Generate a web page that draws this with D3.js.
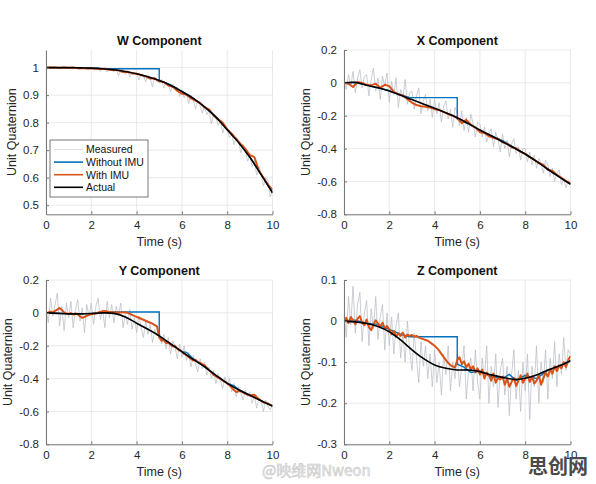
<!DOCTYPE html>
<html>
<head>
<meta charset="utf-8">
<script src="https://cdn.jsdelivr.net/npm/d3@7"></script>
<style>
  body { margin: 0; background: #fff; }
  svg { display: block; font-family: "Liberation Sans", Arial, sans-serif; }
</style>
</head>
<body>
<div id="chart"></div>
<script>
// ---- data (samples evenly spaced over 0..10 s) ----
const wActual = [1.000, 1.000, 1.000, 0.999, 0.998, 0.996, 0.992, 0.986, 0.978, 0.967, 0.953, 0.936, 0.913, 0.888, 0.857, 0.820, 0.774, 0.728, 0.674, 0.611, 0.545];
const wMeasured = [
  1.000, 0.998, 1.001, 0.997, 1.000, 0.999, 0.996, 1.001, 0.998, 1.000,
  0.997, 1.002, 0.995, 0.999, 1.001, 0.994, 1.000, 0.997, 1.002, 0.993,
  0.999, 0.990, 0.997, 1.001, 0.986, 0.995, 0.998, 0.984, 0.996, 0.990,
  0.985, 0.996, 0.970, 0.990, 0.993, 0.975, 0.988, 0.966, 0.984, 0.979,
  0.981, 0.955, 0.975, 0.970, 0.948, 0.972, 0.960, 0.930, 0.964, 0.952,
  0.945, 0.958, 0.925, 0.947, 0.938, 0.912, 0.940, 0.922, 0.930, 0.895,
  0.918, 0.890, 0.905, 0.870, 0.900, 0.884, 0.850, 0.882, 0.862, 0.835,
  0.860, 0.830, 0.845, 0.795, 0.832, 0.822, 0.790, 0.810, 0.762, 0.790,
  0.778, 0.745, 0.760, 0.720, 0.748, 0.735, 0.690, 0.722, 0.700, 0.660,
  0.680, 0.640, 0.662, 0.610, 0.640, 0.615, 0.570, 0.600, 0.590, 0.530,
  0.552];
const wWithImu = [1.000, 1.000, 1.000, 0.999, 1.000, 0.999, 1.000, 0.998, 0.999, 0.997,
  0.998, 0.996, 0.995, 0.996, 0.992, 0.991, 0.990, 0.984, 0.985, 0.979,
  0.978, 0.973, 0.968, 0.960, 0.961, 0.950, 0.948, 0.935, 0.930, 0.915,
  0.905, 0.902, 0.888, 0.880, 0.872, 0.855, 0.848, 0.826, 0.812, 0.800,
  0.776, 0.760, 0.740, 0.722, 0.705, 0.682, 0.675, 0.625, 0.600, 0.575, 0.555];
const wWithoutImu = [[0, 1.000], [1, 1.000], [2, 0.998], [2.5, 0.996], [5, 0.996], [5, 0.953], [5.5, 0.937],
  [6, 0.914], [6.5, 0.889], [7, 0.858], [7.5, 0.822], [8, 0.776], [8.5, 0.731], [9, 0.676], [9.5, 0.612], [10, 0.546]];

const xActual = [0.000, 0.003, -0.015, -0.030, -0.050, -0.075, -0.102, -0.128, -0.155, -0.182, -0.212, -0.248, -0.287, -0.322, -0.358, -0.395, -0.433, -0.478, -0.526, -0.572, -0.617];
const xMeasured = [
  0.02, -0.04, 0.05, -0.02, 0.07, -0.06, 0.03, 0.08, -0.03, 0.04,
  0.05, -0.08, 0.02, 0.09, -0.05, 0.03, -0.10, 0.04, -0.02, 0.06,
  -0.12, 0.01, -0.07, 0.03, -0.15, -0.04, -0.09, 0.02, -0.13, -0.06,
  -0.05, -0.16, -0.08, -0.03, -0.19, -0.11, -0.07, -0.17, -0.10, -0.21,
  -0.10, -0.19, -0.12, -0.24, -0.14, -0.11, -0.22, -0.16, -0.27, -0.15,
  -0.18, -0.26, -0.17, -0.29, -0.21, -0.30, -0.19, -0.25, -0.33, -0.24,
  -0.25, -0.33, -0.27, -0.36, -0.31, -0.28, -0.39, -0.30, -0.35, -0.42,
  -0.31, -0.40, -0.35, -0.45, -0.37, -0.34, -0.43, -0.39, -0.47, -0.40,
  -0.40, -0.48, -0.42, -0.50, -0.44, -0.52, -0.46, -0.49, -0.55, -0.47,
  -0.50, -0.57, -0.52, -0.60, -0.55, -0.53, -0.62, -0.58, -0.64, -0.59,
  -0.61];
const xWithImu = [0.000, -0.005, -0.025, 0.005, 0.000, -0.012, -0.015, -0.005, -0.030, -0.012,
  -0.020, -0.055, -0.070, -0.075, -0.100, -0.120, -0.135, -0.142, -0.145, -0.150,
  -0.160, -0.165, -0.178, -0.190, -0.200, -0.215, -0.245, -0.225, -0.255, -0.272,
  -0.300, -0.305, -0.325, -0.335, -0.340, -0.362, -0.370, -0.392, -0.398, -0.420,
  -0.432, -0.452, -0.468, -0.488, -0.498, -0.530, -0.535, -0.560, -0.578, -0.598, -0.612];
const xWithoutImu = [[0, 0.000], [0.5, 0.002], [1, -0.014], [1.5, -0.030], [2, -0.048], [2.5, -0.072], [2.9, -0.090],
  [5, -0.090], [5, -0.220], [5.5, -0.250], [6, -0.290], [6.5, -0.322], [7, -0.352], [7.5, -0.392],
  [8, -0.433], [8.5, -0.477], [9, -0.524], [9.5, -0.572], [10, -0.617]];

const yActual = [0.000, -0.003, -0.006, -0.006, -0.004, 0.000, -0.003, -0.025, -0.063, -0.100, -0.140, -0.188, -0.236, -0.283, -0.328, -0.380, -0.429, -0.468, -0.502, -0.535, -0.567];
const yMeasured = [
  0.03, -0.06, 0.09, -0.02, 0.05, 0.12, -0.08, 0.04, -0.11, 0.06,
  -0.03, 0.07, -0.09, 0.02, 0.08, -0.05, 0.03, -0.12, 0.05, -0.02,
  0.06, -0.07, 0.04, 0.09, -0.04, 0.02, -0.09, 0.07, -0.03, 0.05,
  -0.06, 0.04, -0.02, 0.06, -0.09, -0.01, -0.07, 0.02, -0.10, -0.03,
  -0.12, -0.02, -0.09, -0.15, -0.05, -0.13, -0.07, -0.18, -0.10, -0.14,
  -0.10, -0.19, -0.13, -0.22, -0.15, -0.25, -0.17, -0.21, -0.28, -0.19,
  -0.27, -0.20, -0.29, -0.24, -0.33, -0.26, -0.31, -0.36, -0.28, -0.34,
  -0.30, -0.38, -0.33, -0.40, -0.35, -0.43, -0.37, -0.41, -0.46, -0.39,
  -0.44, -0.40, -0.48, -0.43, -0.51, -0.45, -0.49, -0.53, -0.47, -0.51,
  -0.48, -0.55, -0.50, -0.58, -0.52, -0.54, -0.60, -0.53, -0.57, -0.59,
  -0.56];
const yWithImu = [
  0.000, 0.003, 0.008, 0.002, 0.012, 0.020, 0.030, 0.018, 0.002, -0.004,
  -0.006, -0.002, -0.010, -0.004, -0.008, -0.022, -0.030, -0.025, -0.018, -0.012,
  -0.008, -0.004, -0.006, 0.002, 0.006, 0.010, 0.012, 0.008, 0.004, 0.006,
  0.002, 0.004, 0.000, 0.003, 0.004, 0.002, 0.000, -0.006, -0.012, -0.018,
  -0.024, -0.030, -0.036, -0.042, -0.048, -0.054, -0.060, -0.066, -0.074, -0.082,
  -0.150, -0.170, -0.165, -0.185, -0.180, -0.195, -0.205, -0.200, -0.220, -0.228,
  -0.236, -0.250, -0.258, -0.268, -0.280, -0.290, -0.285, -0.300, -0.305, -0.312,
  -0.318, -0.335, -0.350, -0.362, -0.378, -0.385, -0.395, -0.402, -0.412, -0.420,
  -0.428, -0.440, -0.455, -0.470, -0.482, -0.478, -0.475, -0.485, -0.492, -0.498,
  -0.504, -0.500, -0.498, -0.512, -0.525, -0.535, -0.545, -0.548, -0.552, -0.560,
  -0.566];
const yWithoutImu = [[0, 0.000], [0.5, -0.002], [1, -0.006], [1.5, -0.006], [2, -0.003], [2.5, 0.002], [3, 0.005],
  [5, 0.005], [5, -0.150], [5.5, -0.190], [6, -0.236], [6.2, -0.240], [6.5, -0.280], [7, -0.325],
  [7.5, -0.380], [8, -0.428], [8.3, -0.445], [8.5, -0.466], [9, -0.500], [9.2, -0.505], [9.5, -0.535], [10, -0.567]];

const zActual = [0.000, -0.002, -0.006, -0.013, -0.026, -0.046, -0.070, -0.091, -0.107, -0.115, -0.119, -0.119, -0.123, -0.131, -0.137, -0.142, -0.139, -0.131, -0.119, -0.109, -0.097];
const zMeasured = [
  0.030, -0.040, 0.060, -0.010, 0.085, -0.030, 0.040, 0.070, -0.050, 0.020,
  0.050, -0.060, 0.030, -0.020, 0.060, -0.045, 0.010, 0.040, -0.070, 0.020,
  -0.060, 0.010, -0.080, -0.010, 0.020, -0.090, -0.030, -0.100, 0.000, -0.070,
  -0.120, -0.030, -0.090, -0.150, -0.050, -0.110, -0.060, -0.140, -0.080, -0.160,
  -0.070, -0.150, -0.100, -0.180, -0.080, -0.130, -0.060, -0.170, -0.100, -0.140,
  -0.080, -0.160, -0.110, -0.060, -0.190, -0.120, -0.090, -0.170, -0.070, -0.150,
  -0.190, -0.090, -0.140, -0.060, -0.200, -0.110, -0.160, -0.080, -0.210, -0.120,
  -0.090, -0.180, -0.110, -0.230, -0.130, -0.070, -0.190, -0.120, -0.220, -0.100,
  -0.170, -0.080, -0.240, -0.110, -0.160, -0.060, -0.200, -0.100, -0.150, -0.070,
  -0.190, -0.090, -0.140, -0.050, -0.160, -0.080, -0.130, -0.040, -0.120, -0.070,
  -0.080];
const zWithImu = [
  0.000, 0.008, -0.005, 0.010, 0.002, -0.008, 0.006, 0.012, -0.004, -0.010,
  0.004, -0.015, -0.022, -0.008, 0.002, -0.006, -0.014, -0.004, -0.018, -0.012,
  -0.020, -0.032, -0.024, -0.038, -0.030, -0.036, -0.028, -0.040, -0.033, -0.036,
  -0.034, -0.038, -0.036, -0.040, -0.042, -0.044, -0.046, -0.048, -0.052, -0.056,
  -0.060, -0.066, -0.072, -0.080, -0.088, -0.095, -0.102, -0.107, -0.110, -0.113,
  -0.095, -0.088, -0.105, -0.098, -0.112, -0.104, -0.118, -0.110, -0.125, -0.115,
  -0.130, -0.118, -0.140, -0.125, -0.132, -0.145, -0.128, -0.150, -0.138, -0.142,
  -0.135, -0.155, -0.140, -0.160, -0.148, -0.138, -0.158, -0.145, -0.132, -0.150,
  -0.140, -0.128, -0.148, -0.135, -0.152, -0.145, -0.132, -0.155, -0.140, -0.125,
  -0.135, -0.118, -0.128, -0.110, -0.122, -0.108, -0.115, -0.100, -0.112, -0.095,
  -0.085];
const zWithoutImu = [[0, 0.000], [0.5, 0.002], [1, -0.005], [1.5, -0.008], [2, -0.020], [2.5, -0.032], [2.9, -0.038],
  [5, -0.038], [5, -0.105], [5.3, -0.112], [5.6, -0.125], [6, -0.122], [6.5, -0.135], [7, -0.140],
  [7.3, -0.130], [7.6, -0.145], [8, -0.132], [8.5, -0.140], [9, -0.120], [9.5, -0.110], [10, -0.095]];

const timeTicks = [0, 2, 4, 6, 8, 10];
const wTicks = [0.5, 0.6, 0.7, 0.8, 0.9, 1];
const xyTicks = [-0.8, -0.6, -0.4, -0.2, 0, 0.2];
const zTicks = [-0.3, -0.2, -0.1, 0, 0.1];
const legendLabels = ["Measured", "Without IMU", "With IMU", "Actual"];

// ---- layout ----
const width = 596, height = 484;
const colors = {measured: "#b9bec5", without: "#0072bd", withImu: "#d95319", actual: "#000"};

const panels = [
  {title: "W Component", left: 46, top: 50, yDomain: [0.467, 1.064], yTicks: wTicks, labelOffset: -30,
    actual: wActual, measured: wMeasured, withImu: wWithImu, without: wWithoutImu, legend: true},
  {title: "X Component", left: 344, top: 50, yDomain: [-0.8, 0.2], yTicks: xyTicks, labelOffset: -34,
    actual: xActual, measured: xMeasured, withImu: xWithImu, without: xWithoutImu},
  {title: "Y Component", left: 46, top: 280, yDomain: [-0.8, 0.2], yTicks: xyTicks, labelOffset: -34,
    actual: yActual, measured: yMeasured, withImu: yWithImu, without: yWithoutImu},
  {title: "Z Component", left: 344, top: 280, yDomain: [-0.3, 0.1], yTicks: zTicks, labelOffset: -34,
    actual: zActual, measured: zMeasured, withImu: zWithImu, without: zWithoutImu}
];
const innerWidth = 226.5;
const innerHeight = 164.3;

const svg = d3.select("#chart")
  .append("svg")
    .attr("width", width)
    .attr("height", height);

// turn an evenly sampled array into [t, v] pairs
const sampled = arr => arr.map((v, i) => [i * 10 / (arr.length - 1), v]);
const fmt = d => String(+d.toFixed(1));

panels.forEach((p, k) => {
  const xScale = d3.scaleLinear().domain([0, 10]).range([0, innerWidth]);
  const yScale = d3.scaleLinear().domain(p.yDomain).range([innerHeight, 0]);

  const g = svg.append("g")
    .attr("transform", `translate(${p.left}, ${p.top})`);

  // grid
  g.append("g")
    .selectAll("line.vgrid")
    .data(timeTicks)
    .join("line")
      .attr("x1", d => xScale(d)).attr("x2", d => xScale(d))
      .attr("y1", 0).attr("y2", innerHeight)
      .attr("stroke", "#e4e4e4").attr("stroke-width", 0.8);
  g.append("g")
    .selectAll("line.hgrid")
    .data(p.yTicks)
    .join("line")
      .attr("x1", 0).attr("x2", innerWidth)
      .attr("y1", d => yScale(d)).attr("y2", d => yScale(d))
      .attr("stroke", "#e4e4e4").attr("stroke-width", 0.8);

  // clip
  const clipId = `clip-${k}`;
  g.append("clipPath").attr("id", clipId)
    .append("rect").attr("width", innerWidth).attr("height", innerHeight);
  const plot = g.append("g").attr("clip-path", `url(#${clipId})`);

  const line = d3.line()
    .x(d => xScale(d[0]))
    .y(d => yScale(d[1]));
  const smooth = d3.line()
    .x(d => xScale(d[0]))
    .y(d => yScale(d[1]))
    .curve(d3.curveCatmullRom);

  plot.append("path")
    .attr("d", line(sampled(p.measured)))
    .attr("fill", "none").attr("stroke", colors.measured).attr("stroke-width", 0.75);
  plot.append("path")
    .attr("d", line(p.without))
    .attr("fill", "none").attr("stroke", colors.without).attr("stroke-width", 1.4);
  plot.append("path")
    .attr("d", line(sampled(p.withImu)))
    .attr("fill", "none").attr("stroke", colors.withImu).attr("stroke-width", 2)
    .attr("stroke-linejoin", "round");
  plot.append("path")
    .attr("d", smooth(sampled(p.actual)))
    .attr("fill", "none").attr("stroke", colors.actual).attr("stroke-width", 1.6);

  // axes
  const bottomAxis = d3.axisBottom(xScale)
    .tickValues(timeTicks)
    .tickSizeInner(-3).tickSizeOuter(0).tickPadding(7);
  const leftAxis = d3.axisLeft(yScale)
    .tickValues(p.yTicks).tickFormat(fmt)
    .tickSizeInner(-3).tickSizeOuter(0).tickPadding(7);

  const xAxisG = g.append("g")
    .attr("transform", `translate(0, ${innerHeight})`)
    .call(bottomAxis);
  const yAxisG = g.append("g").call(leftAxis);
  [xAxisG, yAxisG].forEach(a => {
    a.select(".domain").attr("stroke", "#777");
    a.selectAll(".tick line").attr("stroke", "#777");
    a.selectAll(".tick text")
      .attr("fill", "#262626")
      .style("font-size", "11.5px")
      .style("font-family", "Liberation Sans, Arial, sans-serif");
  });

  // labels
  g.append("text")
    .text(p.title)
    .attr("x", innerWidth / 2).attr("y", -5)
    .attr("text-anchor", "middle")
    .attr("fill", "#111")
    .style("font-size", "12.5px").style("font-weight", "bold");
  g.append("text")
    .text("Time (s)")
    .attr("x", innerWidth / 2).attr("y", innerHeight + 32)
    .attr("text-anchor", "middle")
    .attr("fill", "#262626")
    .style("font-size", "12.5px");
  g.append("text")
    .text("Unit Quaternion")
    .attr("transform", `translate(${p.labelOffset}, ${innerHeight / 2}) rotate(-90)`)
    .attr("text-anchor", "middle")
    .attr("fill", "#262626")
    .style("font-size", "12.5px");

  // legend
  if (p.legend) {
    const lg = svg.append("g").attr("transform", "translate(50, 140)");
    lg.append("rect")
      .attr("width", 98).attr("height", 57)
      .attr("fill", "#fff").attr("stroke", "#555").attr("stroke-width", 0.8);
    const legendColors = [ "#e0e0e0", colors.without, colors.withImu, colors.actual];
    legendLabels.forEach((label, i) => {
      const y = 9.5 + i * 12.6;
      lg.append("line")
        .attr("x1", 4).attr("x2", 33).attr("y1", y).attr("y2", y)
        .attr("stroke", legendColors[i]).attr("stroke-width", i === 0 ? 1 : 1.6);
      lg.append("text")
        .text(label)
        .attr("x", 36).attr("y", y + 3.8)
        .attr("fill", "#111")
        .style("font-size", "10.5px");
    });
  }
});

// watermark
svg.append("text")
  .text("@映维网Nweon")
  .attr("x", 262).attr("y", 476)
  .attr("fill", "#f2f2f2").attr("stroke", "#c8c8c8").attr("stroke-width", 0.6)
  .style("font-size", "15px")
  .style("font-family", "Noto Sans CJK SC, sans-serif");
svg.append("text")
  .text("思创网")
  .attr("x", 528).attr("y", 474)
  .attr("fill", "#4a4a4a")
  .style("font-size", "20px").style("font-weight", "bold")
  .style("font-family", "Noto Sans CJK SC, sans-serif");
</script>
</body>
</html>
